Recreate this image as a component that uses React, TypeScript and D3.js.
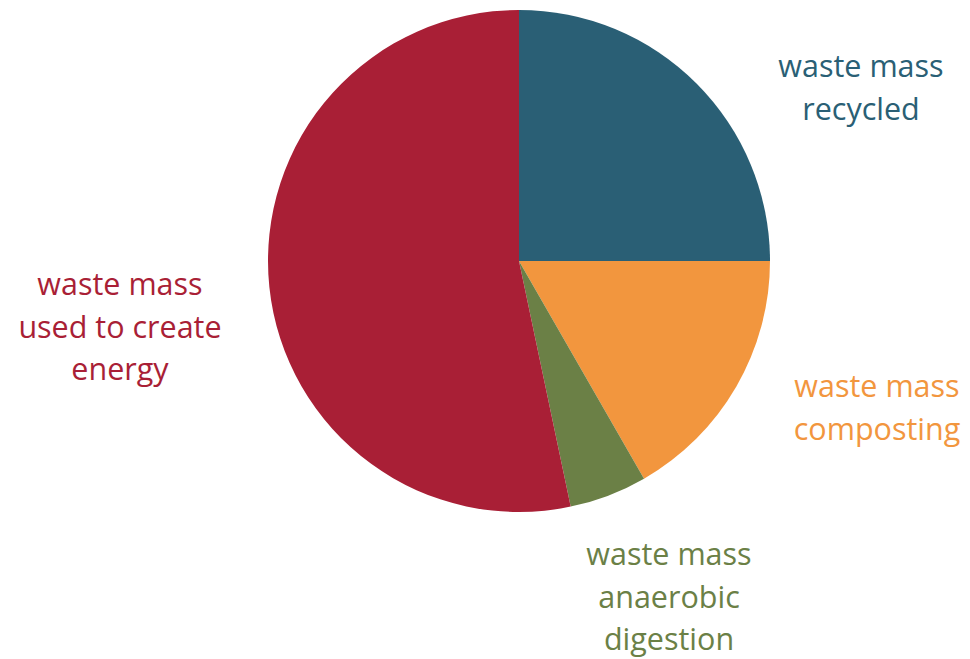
import React from "react";
import * as d3 from "d3";

const categories = [
  "waste mass recycled",
  "waste mass composting",
  "waste mass anaerobic digestion",
  "waste mass used to create energy",
];
const values = [25, 16.7, 5, 53.3];
const colors = ["#2a5f75", "#f2963e", "#6b8046", "#a91f36"];
const labelLines = [
  ["waste mass", "recycled"],
  ["waste mass", "composting"],
  ["waste mass", "anaerobic", "digestion"],
  ["waste mass", "used to create", "energy"],
];
const labelPos = [
  [861, 77],
  [877, 397],
  [669, 565],
  [120, 295],
];

export default function App() {
  const W = 970, H = 659;
  const cx = 519, cy = 261, r = 251;
  const pie = d3.pie<number>().sort(null).value((d) => d);
  const arcs = pie(values);
  const arc = d3.arc<d3.PieArcDatum<number>>().innerRadius(0).outerRadius(r);
  return (
    <svg width={W} height={H} style={{ position: "absolute", left: 0, top: 0 }}>
      <g transform={`translate(${cx},${cy})`}>
        {arcs.map((a, i) => (
          <path key={categories[i]} d={arc(a) || ""} fill={colors[i]} />
        ))}
      </g>
      {labelLines.map((lines, i) => (
        <text
          key={categories[i]}
          x={labelPos[i][0]}
          y={labelPos[i][1]}
          fill={colors[i]}
          textAnchor="middle"
          fontFamily="'Open Sans', sans-serif"
          fontWeight={400}
          fontSize={30.5}
        >
          {lines.map((l, j) => (
            <tspan key={j} x={labelPos[i][0]} dy={j === 0 ? 0 : 42.5}>
              {l}
            </tspan>
          ))}
        </text>
      ))}
    </svg>
  );
}
